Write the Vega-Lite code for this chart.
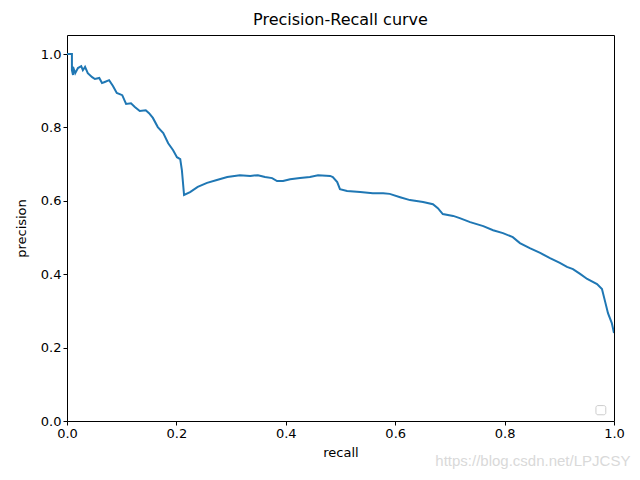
{
  "$schema": "https://vega.github.io/schema/vega-lite/v6.json",
  "width": 547,
  "height": 386,
  "autosize": {"type": "none"},
  "padding": {"left": 67, "top": 35, "right": 26, "bottom": 59},
  "config": {
    "font": "DejaVu Sans",
    "view": {"stroke": "black", "strokeWidth": 1},
    "axis": {
      "grid": false,
      "domain": false,
      "tickColor": "black",
      "tickSize": 4,
      "labelColor": "black",
      "labelFontSize": 13,
      "labelFlush": false,
      "labelFont": "DejaVu Sans",
      "titleFont": "DejaVu Sans",
      "titleFontSize": 13,
      "titleFontWeight": "normal",
      "titleColor": "black"
    },
    "title": {"font": "DejaVu Sans", "fontSize": 16, "fontWeight": "normal", "color": "black", "offset": 7}
  },
  "title": "Precision-Recall curve",
  "data": {"values": [
    {"i":0,"recall":0,"precision":1.0},
    {"i":1,"recall":0.009,"precision":1.0},
    {"i":2,"recall":0.009,"precision":0.956},
    {"i":3,"recall":0.011,"precision":0.943},
    {"i":4,"recall":0.011,"precision":0.965},
    {"i":5,"recall":0.015,"precision":0.948},
    {"i":6,"recall":0.020,"precision":0.962},
    {"i":7,"recall":0.026,"precision":0.967},
    {"i":8,"recall":0.029,"precision":0.956},
    {"i":9,"recall":0.033,"precision":0.965},
    {"i":10,"recall":0.038,"precision":0.948},
    {"i":11,"recall":0.046,"precision":0.937},
    {"i":12,"recall":0.051,"precision":0.932},
    {"i":13,"recall":0.059,"precision":0.935},
    {"i":14,"recall":0.064,"precision":0.921},
    {"i":15,"recall":0.069,"precision":0.924},
    {"i":16,"recall":0.077,"precision":0.929},
    {"i":17,"recall":0.084,"precision":0.913},
    {"i":18,"recall":0.091,"precision":0.894},
    {"i":19,"recall":0.101,"precision":0.888},
    {"i":20,"recall":0.108,"precision":0.864},
    {"i":21,"recall":0.117,"precision":0.866},
    {"i":22,"recall":0.124,"precision":0.856},
    {"i":23,"recall":0.133,"precision":0.845},
    {"i":24,"recall":0.144,"precision":0.847},
    {"i":25,"recall":0.150,"precision":0.839},
    {"i":26,"recall":0.157,"precision":0.826},
    {"i":27,"recall":0.166,"precision":0.801},
    {"i":28,"recall":0.176,"precision":0.785},
    {"i":29,"recall":0.185,"precision":0.757},
    {"i":30,"recall":0.194,"precision":0.738},
    {"i":31,"recall":0.201,"precision":0.719},
    {"i":32,"recall":0.207,"precision":0.714},
    {"i":33,"recall":0.210,"precision":0.684},
    {"i":34,"recall":0.214,"precision":0.616},
    {"i":35,"recall":0.225,"precision":0.624},
    {"i":36,"recall":0.239,"precision":0.638},
    {"i":37,"recall":0.256,"precision":0.649},
    {"i":38,"recall":0.274,"precision":0.657},
    {"i":39,"recall":0.293,"precision":0.665},
    {"i":40,"recall":0.316,"precision":0.670},
    {"i":41,"recall":0.335,"precision":0.668},
    {"i":42,"recall":0.349,"precision":0.670},
    {"i":43,"recall":0.362,"precision":0.665},
    {"i":44,"recall":0.375,"precision":0.662},
    {"i":45,"recall":0.384,"precision":0.654},
    {"i":46,"recall":0.395,"precision":0.654},
    {"i":47,"recall":0.408,"precision":0.659},
    {"i":48,"recall":0.426,"precision":0.662},
    {"i":49,"recall":0.444,"precision":0.665},
    {"i":50,"recall":0.459,"precision":0.670},
    {"i":51,"recall":0.481,"precision":0.668},
    {"i":52,"recall":0.486,"precision":0.665},
    {"i":53,"recall":0.494,"precision":0.651},
    {"i":54,"recall":0.499,"precision":0.632},
    {"i":55,"recall":0.512,"precision":0.627},
    {"i":56,"recall":0.536,"precision":0.624},
    {"i":57,"recall":0.559,"precision":0.621},
    {"i":58,"recall":0.578,"precision":0.621},
    {"i":59,"recall":0.590,"precision":0.619},
    {"i":60,"recall":0.609,"precision":0.610},
    {"i":61,"recall":0.627,"precision":0.602},
    {"i":62,"recall":0.651,"precision":0.597},
    {"i":63,"recall":0.669,"precision":0.591},
    {"i":64,"recall":0.678,"precision":0.580},
    {"i":65,"recall":0.687,"precision":0.564},
    {"i":66,"recall":0.706,"precision":0.559},
    {"i":67,"recall":0.718,"precision":0.553},
    {"i":68,"recall":0.737,"precision":0.542},
    {"i":69,"recall":0.761,"precision":0.531},
    {"i":70,"recall":0.779,"precision":0.520},
    {"i":71,"recall":0.797,"precision":0.512},
    {"i":72,"recall":0.815,"precision":0.501},
    {"i":73,"recall":0.828,"precision":0.485},
    {"i":74,"recall":0.846,"precision":0.471},
    {"i":75,"recall":0.865,"precision":0.458},
    {"i":76,"recall":0.883,"precision":0.444},
    {"i":77,"recall":0.901,"precision":0.431},
    {"i":78,"recall":0.914,"precision":0.420},
    {"i":79,"recall":0.925,"precision":0.414},
    {"i":80,"recall":0.938,"precision":0.401},
    {"i":81,"recall":0.951,"precision":0.387},
    {"i":82,"recall":0.969,"precision":0.373},
    {"i":83,"recall":0.978,"precision":0.360},
    {"i":84,"recall":0.984,"precision":0.324},
    {"i":85,"recall":0.989,"precision":0.294},
    {"i":86,"recall":0.996,"precision":0.267},
    {"i":87,"recall":1.0,"precision":0.240}
  ]},
  "layer": [
    {
      "mark": {"type": "line", "color": "#1f77b4", "strokeWidth": 2, "clip": true},
      "encoding": {
        "x": {"field": "recall", "type": "quantitative", "scale": {"domain": [0, 1], "nice": false, "zero": false}, "axis": {"values": [0, 0.2, 0.4, 0.6, 0.8, 1.0], "format": ".1f", "title": "recall", "titlePadding": 6}},
        "y": {"field": "precision", "type": "quantitative", "scale": {"domain": [0, 1.052], "nice": false, "zero": false}, "axis": {"values": [0, 0.2, 0.4, 0.6, 0.8, 1.0], "format": ".1f", "title": "precision", "titlePadding": 12}},
        "order": {"field": "i", "type": "quantitative"}
      }
    },
    {
      "data": {"values": [{"k": "legend"}]},
      "mark": {"type": "rect", "fill": "white", "stroke": "#cccccc", "strokeWidth": 1, "cornerRadius": 2},
      "encoding": {
        "x": {"datum": 0.967},
        "x2": {"datum": 0.985},
        "y": {"datum": 0.042},
        "y2": {"datum": 0.017}
      }
    },
    {
      "data": {"values": [{"t": "https://blog.csdn.net/LPJCSY"}]},
      "mark": {"type": "text", "align": "right", "baseline": "middle", "fontSize": 15, "color": "#d9d9d9", "font": "Liberation Sans", "clip": false},
      "encoding": {
        "text": {"field": "t"},
        "x": {"datum": 1.03},
        "y": {"datum": -0.11}
      }
    }
  ]
}
